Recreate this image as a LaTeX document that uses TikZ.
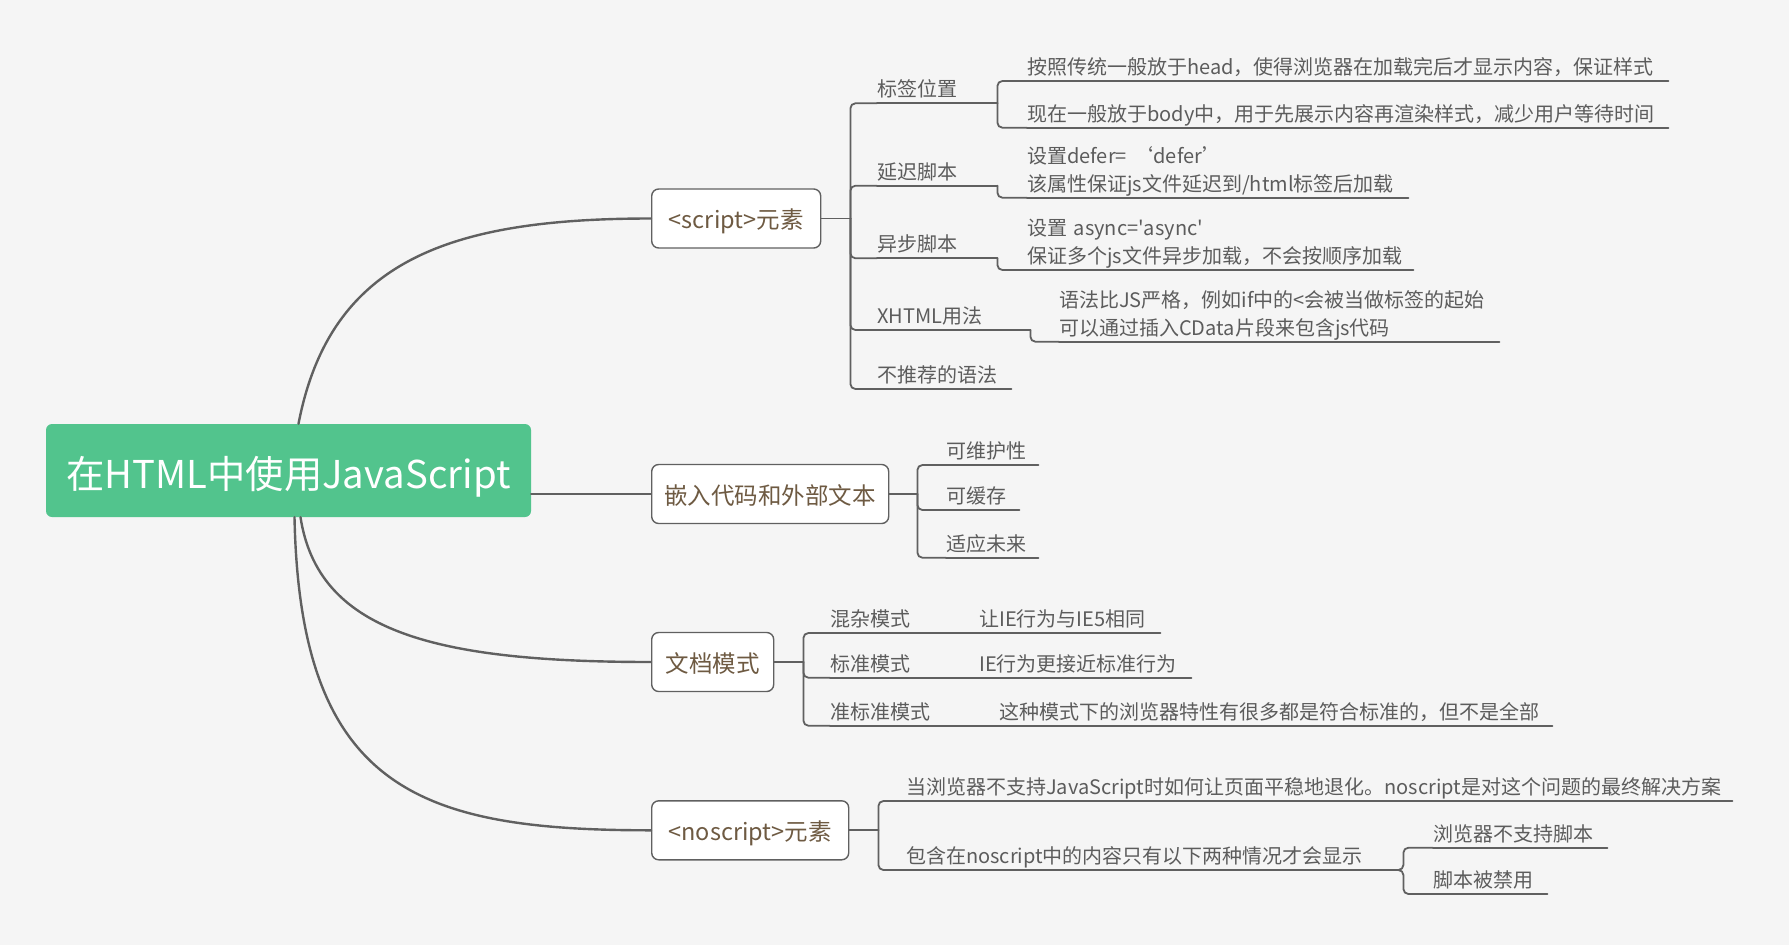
\documentclass[tikz,border=0pt]{standalone}
\usepackage{fontspec}
\setmainfont{Noto Sans CJK SC}[Ligatures=TeXOff]
\usetikzlibrary{positioning}

\definecolor{paper}{HTML}{F5F5F5}
\definecolor{rootgreen}{HTML}{52C48D}
\definecolor{wire}{HTML}{606060}
\definecolor{brownink}{HTML}{6E5A42}
\definecolor{grayink}{HTML}{5C5C5C}

\tikzset{
  rootbox/.style={fill=rootgreen,rounded corners=6pt,text=white,
    font=\fontsize{38.3}{46}\selectfont,inner sep=0pt,text height=43pt,text depth=7.7pt},
  mainbox/.style={draw=wire,line width=1.4pt,fill=white,rounded corners=7pt,
    text=brownink,font=\fontsize{23.5}{28}\selectfont,minimum height=59pt,
    inner xsep=0pt,anchor=west,text height=25pt,text depth=4.7pt},
  topic/.style={anchor=south west,inner xsep=0pt,inner ysep=3pt,text depth=3.5pt,
    text width=#1,align=left,text=grayink,font=\fontsize{20}{28}\selectfont},
  twolines/.style={text depth=31.5pt},
  branch/.style={draw=wire,line width=2.4pt},
  link/.style={draw=wire,line width=1.8pt,rounded corners=5pt},
  uline/.style={draw=wire,line width=1.8pt}
}

\begin{document}
\begin{tikzpicture}[x=1pt,y=-1pt,line cap=round,line join=round]
  \fill[paper] (0,0) rectangle (1789,945);
  \useasboundingbox (0,0) rectangle (1789,945);

  % root and main topics
  \node[rootbox,minimum width=485pt,minimum height=93pt] (root) at (288.5,470.5)
    {在HTML中使用JavaScript};
  \node[mainbox,minimum width=169pt] (scr) at (651,218.5) {<script>元素};
  \node[mainbox,minimum width=237pt] (emb) at (651,494) {嵌入代码和外部文本};
  \node[mainbox,minimum width=122pt] (doc) at (651,662) {文档模式};
  \node[mainbox,minimum width=197pt] (nos) at (651,830.3) {<noscript>元素};

  \draw[branch] ([xshift=10pt]root.north) .. controls (330,260) and (450,218.5) .. (scr.west);
  \draw[branch] (root.east |- emb.west) -- (emb.west);
  \draw[branch] ([xshift=12pt]root.south) .. controls (318,630) and (430,662) .. (doc.west);
  \draw[branch] ([xshift=6pt]root.south) .. controls (300,790) and (420,830.3) .. (nos.west);

  % <script>
  \node[topic=120pt] (b1) at (877,103.3) {标签位置};
  \node[topic=120pt] (b2) at (877,185.7) {延迟脚本};
  \node[topic=120pt] (b3) at (877,258.3) {异步脚本};
  \node[topic=153pt] (b4) at (877,330) {XHTML用法};
  \node[topic=134pt] (b5) at (877,389) {不推荐的语法};
  \node[topic=641pt] (c1) at (1027,81) {按照传统一般放于head，使得浏览器在加载完后才显示内容，保证样式};
  \node[topic=641pt] (c2) at (1027,127.7) {现在一般放于body中，用于先展示内容再渲染样式，减少用户等待时间};
  \node[topic=381pt,twolines] (c3) at (1027,197.7) {设置defer= ‘defer’\\该属性保证js文件延迟到/html标签后加载};
  \node[topic=386pt,twolines] (c4) at (1027,270) {设置 async='async'\\保证多个js文件异步加载，不会按顺序加载};
  \node[topic=440pt,twolines] (c5) at (1059,341.7) {语法比JS严格，例如if中的<会被当做标签的起始\\可以通过插入CData片段来包含js代码};

  \draw[link] (scr.east) -- ++(29,0) coordinate (scrj);
  \foreach \t in {b1,b2,b3,b4,b5}
    \draw[link] (scrj) |- (\t.south west);
  \draw[link] (b1.south east) |- (c1.south west);
  \draw[link] (b1.south east) |- (c2.south west);
  \draw[link] (b2.south east) |- (c3.south west);
  \draw[link] (b3.south east) |- (c4.south west);
  \draw[link] (b4.south east) |- (c5.south west);

  % embedded code
  \node[topic=92pt] (f1) at (946,465) {可维护性};
  \node[topic=73pt] (f2) at (946,510) {可缓存};
  \node[topic=92pt] (f3) at (946,557.7) {适应未来};

  \draw[link] (emb.east) -- ++(28,0) coordinate (embj);
  \foreach \t in {f1,f2,f3}
    \draw[link] (embj) |- (\t.south west);

  % document modes
  \node[topic=93pt] (d1) at (830,633) {混杂模式};
  \node[topic=93pt] (d2) at (830,677.7) {标准模式};
  \node[topic=114pt] (d3) at (830,725.7) {准标准模式};
  \node[topic=181pt] (e1) at (979,633) {让IE行为与IE5相同};
  \node[topic=212pt] (e2) at (979,677.7) {IE行为更接近标准行为};
  \node[topic=553pt] (e3) at (999,725.7) {这种模式下的浏览器特性有很多都是符合标准的，但不是全部};

  \draw[link] (doc.east) -- ++(29,0) coordinate (docj);
  \foreach \t in {d1,d2,d3}
    \draw[link] (docj) |- (\t.south west);
  \draw[link] (d1.south east) -- (e1.south west);
  \draw[link] (d2.south east) -- (e2.south west);
  \draw[link] (d3.south east) -- (e3.south west);

  % <noscript>
  \node[topic=826pt] (g1) at (906,801) {当浏览器不支持JavaScript时如何让页面平稳地退化。noscript是对这个问题的最终解决方案};
  \node[topic=469pt] (g2) at (906,870) {包含在noscript中的内容只有以下两种情况才会显示};
  \node[topic=174pt] (h1) at (1433,847.7) {浏览器不支持脚本};
  \node[topic=114pt] (h2) at (1433,894) {脚本被禁用};

  \draw[link] (nos.east) -- ++(29,0) coordinate (nosj);
  \foreach \t in {g1,g2}
    \draw[link] (nosj) |- (\t.south west);
  \draw[link] (g2.south east) -- ++(28,0) |- (h1.south west);
  \draw[link] (g2.south east) -- ++(28,0) |- (h2.south west);

  % underlines
  \foreach \t in {b1,b2,b3,b4,b5,c1,c2,c3,c4,c5,f1,f2,f3,d1,d2,d3,e1,e2,e3,g1,g2,h1,h2}
    \draw[uline] (\t.south west) -- (\t.south east);
\end{tikzpicture}
\end{document}
